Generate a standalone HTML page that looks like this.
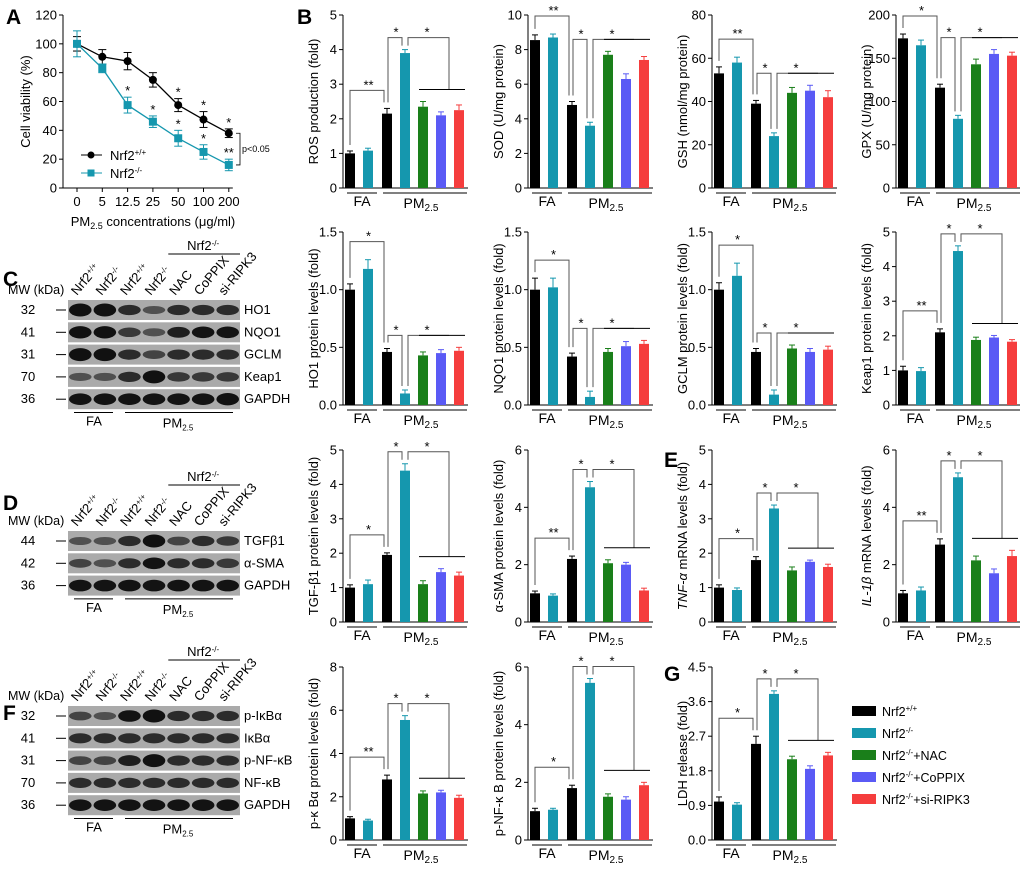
<!DOCTYPE html>
<html><head><meta charset="utf-8"><style>
body{margin:0;background:#fff}
svg{font-family:"Liberation Sans",Arial,sans-serif}
</style></head><body>
<svg id="fig" width="1020" height="867" viewBox="0 0 1020 867" xmlns="http://www.w3.org/2000/svg">
<g font-weight="bold" font-size="21" fill="#000">
<text x="6" y="24">A</text>
<text x="297" y="24">B</text>
<text x="3" y="286">C</text>
<text x="3" y="510">D</text>
<text x="664" y="467">E</text>
<text x="3" y="720">F</text>
<text x="664" y="681">G</text>
</g>
</svg>
<script>
// Panel A data
const doseLabels=["0","5","12.5","25","50","100","200"];
const wtViability=[100,91,88,75,57.5,47.5,38];
const wtErr=[5,5,6,5,4.5,5.5,3];
const koViability=[100,83,57.5,46,34.5,25,16];
const koErr=[9,3,5.5,4,5.5,5,4];
const viabTicks=[0,20,40,60,80,100,120];

// Panel B-G bar data (order: Nrf2+/+ FA, Nrf2-/- FA, Nrf2+/+ PM, Nrf2-/- PM, NAC, CoPPIX, si-RIPK3)
const rosVals=[1.0,1.08,2.15,3.9,2.35,2.1,2.25];
const rosErr=[0.07,0.07,0.15,0.1,0.15,0.1,0.15];
const sodVals=[8.55,8.7,4.8,3.6,7.7,6.3,7.4];
const sodErr=[0.3,0.2,0.2,0.2,0.2,0.3,0.2];
const gshVals=[53,58,39,24,44,45,42];
const gshErr=[3,2.5,1.5,1.5,2.5,2.5,3];
const gpxVals=[173,165,116,80,143,155,153];
const gpxErr=[5,6,4,4,6,5,4];
const ho1Vals=[1.0,1.18,0.46,0.1,0.43,0.45,0.47];
const ho1Err=[0.05,0.08,0.03,0.03,0.03,0.03,0.03];
const nqo1Vals=[1.0,1.02,0.42,0.07,0.46,0.51,0.53];
const nqo1Err=[0.1,0.08,0.03,0.05,0.03,0.04,0.03];
const gclmVals=[1.0,1.12,0.46,0.09,0.49,0.46,0.48];
const gclmErr=[0.06,0.11,0.03,0.04,0.03,0.03,0.03];
const keap1Vals=[1.0,0.98,2.1,4.45,1.88,1.95,1.83];
const keap1Err=[0.12,0.1,0.1,0.15,0.08,0.06,0.06];
const tgfVals=[1.0,1.1,1.95,4.4,1.1,1.45,1.35];
const tgfErr=[0.08,0.12,0.06,0.2,0.1,0.1,0.1];
const smaVals=[1.0,0.92,2.2,4.7,2.05,2.0,1.1];
const smaErr=[0.08,0.06,0.1,0.2,0.12,0.08,0.08];
const tnfVals=[1.0,0.93,1.8,3.3,1.5,1.75,1.6];
const tnfErr=[0.08,0.06,0.1,0.1,0.1,0.05,0.08];
const il1bVals=[1.0,1.1,2.7,5.05,2.15,1.7,2.3];
const il1bErr=[0.1,0.12,0.2,0.15,0.15,0.15,0.2];
const pikbVals=[1.0,0.9,2.8,5.55,2.15,2.2,1.95];
const pikbErr=[0.08,0.06,0.2,0.2,0.12,0.1,0.12];
const pnfkbVals=[1.0,1.05,1.8,5.45,1.5,1.4,1.9];
const pnfkbErr=[0.1,0.05,0.1,0.15,0.1,0.1,0.1];
const ldhVals=[1.0,0.92,2.5,3.8,2.1,1.85,2.2];
const ldhErr=[0.12,0.05,0.2,0.08,0.08,0.08,0.08];
const groupNames=["Nrf2+/+","Nrf2-/-","Nrf2-/-+NAC","Nrf2-/-+CoPPIX","Nrf2-/-+si-RIPK3"];
</script>
<script>
const NS="http://www.w3.org/2000/svg";
const svg=document.getElementById('fig');
function mk(tag,attrs,parent,txt){const e=document.createElementNS(NS,tag);for(const k in attrs)e.setAttribute(k,attrs[k]);if(txt!==undefined)e.textContent=txt;(parent||svg).appendChild(e);return e;}
const colorsBar=["#000","#1597ae","#000","#1597ae","#1a7f1a","#5a5af5","#f53d3d"];

// ---- Panel A ----
(function(){
  const g=mk('g',{});
  
  
  const ax=63,y0=188,yT=15,x0=77,dx=25.3;
  const ys=v=>y0-(v/120)*(y0-yT);
  const xs=i=>x0+i*dx;
  mk('line',{x1:ax,y1:yT,x2:ax,y2:y0,stroke:'#000'},g);
  mk('line',{x1:ax,y1:y0,x2:xs(6)+4,y2:y0,stroke:'#000'},g);
  viabTicks.forEach(t=>{mk('line',{x1:ax-4,x2:ax,y1:ys(t),y2:ys(t),stroke:'#000'},g);
    const tx=mk('text',{x:ax-6,y:ys(t)+4.5,'font-size':13,'text-anchor':'end'},g,t);
    });
  doseLabels.forEach((d,i)=>{mk('line',{x1:xs(i),x2:xs(i),y1:y0,y2:y0+4,stroke:'#000'},g);
    const tx=mk('text',{x:xs(i),y:y0+18,'font-size':13,'text-anchor':'middle'},g,d);
    });
  const yl=mk('text',{x:0,y:0,'font-size':13,'text-anchor':'middle',transform:`translate(30,${(y0+yT)/2}) rotate(-90)`},g,'Cell viability (%)');
  
  const xl=mk('text',{x:153,y:226,'font-size':13,'text-anchor':'middle'},g);
  xl.innerHTML='PM<tspan font-size="9" dy="3">2.5</tspan><tspan dy="-3"> concentrations (μg/ml)</tspan>';
  
  function series(vals,errs,col,sq,name){
    const s=mk('g',{},g);
    
    mk('polyline',{points:vals.map((v,i)=>xs(i)+','+ys(v)).join(' '),fill:'none',stroke:col,'stroke-width':1.3},s);
    vals.forEach((v,i)=>{const x=xs(i);
      mk('line',{x1:x,x2:x,y1:ys(v+errs[i]),y2:ys(v-errs[i]),stroke:col},s);
      mk('line',{x1:x-4,x2:x+4,y1:ys(v+errs[i]),y2:ys(v+errs[i]),stroke:col},s);
      mk('line',{x1:x-4,x2:x+4,y1:ys(v-errs[i]),y2:ys(v-errs[i]),stroke:col},s);
      if(sq)mk('rect',{x:x-4,y:ys(v)-4,width:8,height:8,fill:col},s);
      else mk('circle',{cx:x,cy:ys(v),r:4,fill:col},s);});
  }
  series(wtViability,wtErr,'#000',false,'series-nrf2-wt');
  series(koViability,koErr,'#1597ae',true,'series-nrf2-ko');
  [[2,'*',koViability,koErr],[3,'*',koViability,koErr],[4,'*',koViability,koErr],[5,'*',koViability,koErr],[6,'**',koViability,koErr],
   [4,'*',wtViability,wtErr],[5,'*',wtViability,wtErr],[6,'*',wtViability,wtErr]].forEach(a=>{
    mk('text',{x:xs(a[0]),y:ys(a[2][a[0]]+a[3][a[0]])-2,'font-size':13,'text-anchor':'middle'},g,a[1]);});
  mk('path',{d:`M236,${ys(38)} h4 V${ys(16)} h-4`,fill:'none',stroke:'#000','stroke-width':0.8},g);
  mk('text',{x:242,y:ys(27)+3,'font-size':9},g,'p<0.05');
  const l1=mk('g',{},g);
  mk('line',{x1:81,x2:102,y1:155,y2:155,stroke:'#000'},l1);mk('circle',{cx:91,cy:155,r:3.5},l1);
  const t1=mk('text',{x:110,y:160,'font-size':13},l1);t1.innerHTML='Nrf2<tspan font-size="8" dy="-5">+/+</tspan>';
  const l2=mk('g',{},g);
  mk('line',{x1:81,x2:102,y1:173,y2:173,stroke:'#1597ae'},l2);mk('rect',{x:87.5,y:169.5,width:7,height:7,fill:'#1597ae'},l2);
  const t2=mk('text',{x:110,y:178,'font-size':13},l2);t2.innerHTML='Nrf2<tspan font-size="8" dy="-5">-/-</tspan>';
})();

// ---- Bar charts ----
function barChart(name,ax,yT,y0,max,step,vals,errs,label,tickFmt,stars){
  const g=mk('g',{});
  
  
  const ys=v=>y0-(v/max)*(y0-yT);
  const offs=[2,20,39,57,75,93,111];
  mk('line',{x1:ax,y1:yT,x2:ax,y2:y0,stroke:'#000'},g);
  mk('line',{x1:ax,y1:y0,x2:ax+125,y2:y0,stroke:'#000'},g);
  for(let t=0;t<=max+1e-9;t+=step){
    mk('line',{x1:ax-4,x2:ax,y1:ys(t),y2:ys(t),stroke:'#000'},g);
    const tx=mk('text',{x:ax-6,y:ys(t)+4.5,'font-size':13,'text-anchor':'end'},g,tickFmt(t));
    
  }
  const yl=mk('text',{x:0,y:0,'font-size':13,'text-anchor':'middle',transform:`translate(${ax-25},${(y0+yT)/2}) rotate(-90)`},g);
  yl.innerHTML=label;
  
  const tops=[];
  vals.forEach((v,i)=>{
    const x=ax+offs[i];
    const r=mk('rect',{x:x,y:ys(v),width:10,height:y0-ys(v),fill:colorsBar[i]},g);
    
    
    const et=ys(v+errs[i]);
    mk('line',{x1:x+5,x2:x+5,y1:ys(v),y2:et,stroke:colorsBar[i]},g);
    mk('line',{x1:x+2,x2:x+8,y1:et,y2:et,stroke:colorsBar[i]},g);
    tops.push(et);
  });
  const cx=i=>ax+offs[i]+5;
  const gs='#555';
  const b1=Math.min(tops[0],tops[1],tops[2])-18;
  mk('path',{d:`M${cx(0)},${tops[0]-6} V${b1} H${cx(2)-3} V${tops[2]-6}`,fill:'none',stroke:gs},g);
  mk('text',{x:(cx(0)+cx(2))/2,y:b1-1,'font-size':13,'text-anchor':'middle'},g,stars);
  const top2=Math.min(...tops.slice(2))-12;
  mk('path',{d:`M${cx(2)+1},${tops[2]-6} V${top2} H${cx(3)-3} V${tops[3]-4}`,fill:'none',stroke:gs},g);
  mk('text',{x:(cx(2)+cx(3))/2,y:top2-1,'font-size':13,'text-anchor':'middle'},g,'*');
  const lineY=Math.min(tops[4],tops[5],tops[6])-12;
  const hx=(cx(4)+cx(6))/2+8;
  mk('path',{d:`M${cx(3)+3},${tops[3]-4} V${top2} H${hx} V${lineY}`,fill:'none',stroke:gs},g);
  mk('line',{x1:cx(4)-4,x2:cx(6)+6,y1:lineY,y2:lineY,stroke:'#000'},g);
  mk('text',{x:(cx(3)+hx)/2,y:top2-1,'font-size':13,'text-anchor':'middle'},g,'*');
  mk('line',{x1:ax+4,x2:ax+34,y1:y0+5,y2:y0+5,stroke:'#000'},g);
  mk('line',{x1:ax+40,x2:ax+124,y1:y0+5,y2:y0+5,stroke:'#000'},g);
  const fa=mk('text',{x:ax+19,y:y0+18,'font-size':14,'text-anchor':'middle'},g,'FA');
  
  const pm=mk('text',{x:ax+78,y:y0+20,'font-size':14,'text-anchor':'middle'},g);
  pm.innerHTML='PM<tspan font-size="10" dy="3">2.5</tspan>';
  
}
const i0=t=>String(Math.round(t));const f1=t=>t.toFixed(1);
barChart('ros-chart',343,15,188,5,1,rosVals,rosErr,'ROS production (fold)',i0,'**');
barChart('sod-chart',528,15,188,10,2,sodVals,sodErr,'SOD (U/mg protein)',i0,'**');
barChart('gsh-chart',712,15,188,80,20,gshVals,gshErr,'GSH (nmol/mg protein)',i0,'**');
barChart('gpx-chart',896,15,188,200,50,gpxVals,gpxErr,'GPX (U/mg protein)',i0,'*');
barChart('ho1-chart',343,232,405,1.5,0.5,ho1Vals,ho1Err,'HO1 protein levels (fold)',f1,'*');
barChart('nqo1-chart',528,232,405,1.5,0.5,nqo1Vals,nqo1Err,'NQO1 protein levels (fold)',f1,'*');
barChart('gclm-chart',712,232,405,1.5,0.5,gclmVals,gclmErr,'GCLM protein levels (fold)',f1,'*');
barChart('keap1-chart',896,232,405,5,1,keap1Vals,keap1Err,'Keap1 protein levels (fold)',i0,'**');
barChart('tgfb1-chart',343,450,622,5,1,tgfVals,tgfErr,'TGF-β1 protein levels (fold)',i0,'*');
barChart('asma-chart',528,450,622,6,2,smaVals,smaErr,'α-SMA protein levels (fold)',i0,'**');
barChart('tnfa-chart',712,450,622,5,1,tnfVals,tnfErr,'<tspan font-style="italic">TNF-α</tspan> mRNA levels (fold)',i0,'*');
barChart('il1b-chart',896,450,622,6,2,il1bVals,il1bErr,'<tspan font-style="italic">IL-1β</tspan> mRNA levels (fold)',i0,'**');
barChart('pikba-chart',343,667,840,8,2,pikbVals,pikbErr,'p-κ Bα protein levels (fold)',i0,'**');
barChart('pnfkb-chart',528,667,840,6,2,pnfkbVals,pnfkbErr,'p-NF-κ B protein levels (fold)',i0,'*');
barChart('ldh-chart',712,667,840,4.5,0.9,ldhVals,ldhErr,'LDH release (fold)',f1,'*');

// ---- Legend ----
(function(){
  const g=mk('g',{});
  const lc=["#000","#1597ae","#1a7f1a","#5a5af5","#f53d3d"];
  const sup=["+/+","-/-","-/-","-/-","-/-"];
  groupNames.forEach((n,i)=>{
    const e=mk('g',{},g);
    
    
    const y=706+i*22;
    mk('rect',{x:852,y:y,width:24,height:10,fill:lc[i]},e);
    const t=mk('text',{x:882,y:y+10,'font-size':12.5},e);
    const rest=n.slice(4+sup[i].length);
    t.innerHTML='Nrf2<tspan font-size="8" dy="-5">'+sup[i]+'</tspan><tspan dy="5">'+rest+'</tspan>';
  });
})();

// ---- Western blots ----
const laneLabels=["Nrf2+/+","Nrf2-/-","Nrf2+/+","Nrf2-/-","NAC","CoPPIX","si-RIPK3"];
function blot(name,top,rows,mws,intens){
  const g=mk('g',{});
  const x0=68,w=172,lw=w/7;
  laneLabels.forEach((l,i)=>{
    const t=mk('text',{x:0,y:0,'font-size':13,transform:`translate(${x0+i*lw+9},${top-4}) rotate(-50)`},g);
    if(l.startsWith('Nrf2'))t.innerHTML='Nrf2<tspan font-size="8" dy="-4">'+l.slice(4)+'</tspan>';else t.textContent=l;
  });
  mk('line',{x1:x0+4*lw+2,x2:x0+w,y1:top-46,y2:top-46,stroke:'#000'},g);
  const n=mk('text',{x:x0+5.5*lw,y:top-50,'font-size':13,'text-anchor':'middle'},g);n.innerHTML='Nrf2<tspan font-size="8" dy="-4">-/-</tspan>';
  mk('text',{x:8,y:top-6,'font-size':12.5},g,'MW (kDa)');
  rows.forEach((r,k)=>{
    const y=top+k*22.3;
    const rr=mk('rect',{x:x0,y:y,width:w,height:20,fill:'#aaa'},g);
    
    intens[k].forEach((a,i)=>{mk('ellipse',{cx:x0+i*lw+lw/2,cy:y+10,rx:lw/2-1,ry:3+3.5*a,fill:'#111','fill-opacity':Math.min(1,0.35+a*0.8)},g);});
    mk('text',{x:x0+w+4,y:y+14,'font-size':13},g,r);
    mk('text',{x:28,y:y+14,'font-size':13,'text-anchor':'middle'},g,mws[k]);
    mk('line',{x1:56,x2:66,y1:y+10,y2:y+10,stroke:'#000'},g);
  });
  const yb=top+rows.length*22.3+1;
  mk('line',{x1:x0+6,x2:x0+45,y1:yb,y2:yb,stroke:'#000'},g);
  mk('line',{x1:x0+57,x2:x0+165,y1:yb,y2:yb,stroke:'#000'},g);
  mk('text',{x:x0+26,y:yb+13,'font-size':13,'text-anchor':'middle'},g,'FA');
  const pm=mk('text',{x:x0+110,y:yb+15,'font-size':13,'text-anchor':'middle'},g);pm.innerHTML='PM<tspan font-size="8" dy="3">2.5</tspan>';
}
blot('blot-c',300,['HO1','NQO1','GCLM','Keap1','GAPDH'],['32','41','31','70','36'],
 [[1,1,.6,.3,.6,.6,.6],[.9,.9,.5,.3,.7,.8,.8],[1,1,.6,.4,.6,.6,.6],[.3,.3,.6,1,.5,.5,.5],[.8,.8,.8,.8,.8,.8,.9]]);
blot('blot-d',531,['TGFβ1','α-SMA','GAPDH'],['44','42','36'],
 [[.3,.3,.6,1,.4,.6,.5],[.4,.3,.6,.8,.6,.6,.5],[.8,.8,.8,.8,.8,.8,.8]]);
blot('blot-f',706,['p-IκBα','IκBα','p-NF-κB','NF-κB','GAPDH'],['32','41','31','70','36'],
 [[.4,.3,.8,1,.6,.6,.6],[.6,.6,.6,.6,.6,.6,.6],[.4,.4,.7,1,.6,.6,.6],[.6,.6,.6,.6,.6,.6,.6],[.8,.8,.8,.8,.8,.8,.8]]);
</script>
</body></html>
